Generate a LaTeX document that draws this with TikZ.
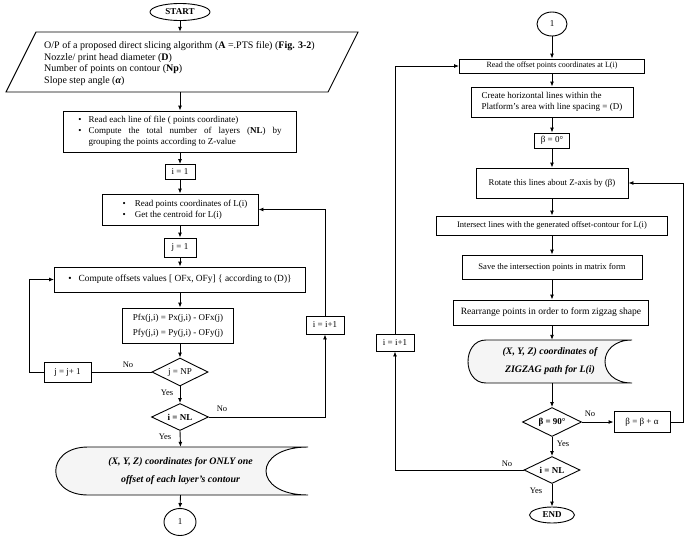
\documentclass[tikz,border=0pt]{standalone}
\usepackage{fontspec}
\setmainfont{Liberation Serif}
\usetikzlibrary{shapes.geometric,arrows.meta,calc}
\begin{document}
\begin{tikzpicture}[x=1pt,y=-1pt,
  font=\fontsize{9}{11}\selectfont,
  proc/.style={draw, line width=0.9pt, inner sep=0pt, align=center},
  dec/.style={draw, diamond, aspect=2, line width=0.9pt, inner sep=0pt},
  term/.style={draw, ellipse, line width=0.9pt, inner sep=0pt},
  ln/.style={line width=0.9pt},
  arr/.style={line width=0.9pt, -{Latex[length=5pt,width=4pt]}},
  lbl/.style={font=\fontsize{8.5}{10}\selectfont, inner sep=1pt},
  store/.style={draw, line width=0.9pt, fill=gray!8},
  bi/.style={font=\fontsize{9.9}{18}\selectfont\bfseries\itshape, align=center, inner sep=0pt}
]
\useasboundingbox (0,0) rectangle (685,536);

% ---------------- left column ----------------
\node[term, minimum width=60, minimum height=17] (start) at (180,12) {\textbf{START}};

\draw[ln] (36,32) -- (358,32) -- (328,92) -- (6,92) -- cycle;
\node[inner sep=0pt, minimum width=300, minimum height=60] (inp) at (180,62) {};
\node[anchor=west, align=left, inner sep=0pt, font=\fontsize{10}{11.6}\selectfont] (inptxt) at (44,63.5)
 {O/P of a proposed direct slicing algorithm (\textbf{A} =.PTS file) (\textbf{Fig. 3-2})\\
  Nozzle/ print head diameter (\textbf{D})\\
  Number of points on contour (\textbf{Np})\\
  Slope step angle (\textbf{\textit{α}})};

\node[proc, minimum width=233, minimum height=41] (bul) at (180,131.5)
 {\begin{tabular}{@{}l@{\hspace{7pt}}l@{}}
  \textbullet & Read each line of file ( points coordinate)\\
  \textbullet & \makebox[193pt][s]{Compute the total number of layers (\textbf{NL}) by}\\
   & grouping the points according to Z-value
  \end{tabular}};

\node[proc, minimum width=30, minimum height=15] (i1) at (180,172) {i = 1};

\node[proc, minimum width=156, minimum height=31] (rp) at (180,209.5)
 {\hspace{10pt}\begin{tabular}{@{}l@{\hspace{9pt}}l@{}}
  \textbullet & Read points coordinates of L(i)\\
  \textbullet & Get the centroid for L(i)
  \end{tabular}};

\node[proc, minimum width=32, minimum height=19] (j1) at (180,247.5) {j = 1};

\node[proc, minimum width=251, minimum height=25, font=\fontsize{9.4}{11}\selectfont] (co) at (180,279.5)
 {\textbullet\hspace{7pt}Compute offsets values [ OFx, OFy] \{ according to (D)\}};

\node[proc, minimum width=111, minimum height=35] (pf) at (178,325.5)
 {Pfx(j,i) = Px(j,i) - OFx(j)\\[4pt] Pfy(j,i) = Py(j,i) - OFy(j)};

\node[dec, minimum width=56, minimum height=28] (jnp) at (180,372) {j = NP};
\node[proc, minimum width=47, minimum height=20] (jj) at (67.5,372) {j = j+ 1};

\node[dec, minimum width=57, minimum height=27] (inl) at (180,417) {\textbf{i = NL}};
\node[proc, minimum width=38, minimum height=18] (ii) at (325,325) {i = i+1};

\draw[store] (88,447) -- (308,447) .. controls (252,447) and (252,495) .. (308,495)
  -- (88,495) .. controls (45,495) and (45,447) .. (88,447) -- cycle;
\node[bi, minimum width=253, minimum height=48] (ds1) at (180.5,471)
 {(X, Y, Z) coordinates for ONLY one\\ offset of each layer's contour};

\node[term, minimum width=32, minimum height=27] (c1) at (180,522) {1};

% left connectors
\draw[arr] (start.south) -- (inp.north);
\draw[arr] (inp.south) -- (bul.north);
\draw[arr] (bul.south) -- (i1.north);
\draw[arr] (i1.south) -- (rp.north);
\draw[arr] (rp.south) -- (j1.north);
\draw[arr] (j1.south) -- (co.north);
\draw[arr] (co.south) -- (co.south |- pf.north);
\draw[arr] (pf.south -| jnp.north) -- (jnp.north);
\draw[ln] (jnp.west) -- (jj.east);
\draw[arr] (jj.west) -- ++(-14,0) |- (co.west);
\draw[arr] (jnp.south) -- (inl.north);
\draw[arr] (inl.east) -| (ii.south);
\draw[arr] (ii.north) |- (rp.east);
\draw[arr] (inl.south) -- (ds1.north);
\draw[arr] (ds1.south) -- (c1.north);

\node[lbl] (no1) at (128,365) {No};
\node[lbl] (yes1) at (167,393) {Yes};
\node[lbl] (no2) at (222,409) {No};
\node[lbl] (yes2) at (165,437) {Yes};

% ---------------- right column ----------------
\node[term, minimum width=30, minimum height=24] (c2) at (552,24) {1};
\node[proc, minimum width=185, minimum height=14, font=\fontsize{8}{10}\selectfont] (ro) at (552,66) {Read the offset points coordinates at L(i)};
\node[proc, minimum width=162, minimum height=30] (ch) at (552,102)
 {\begin{tabular}{@{}l@{}}Create horizontal lines within the\\ Platform's area with line spacing = (D)\end{tabular}};
\node[proc, minimum width=35, minimum height=15] (b0) at (552,140.5) {β = 0°};
\node[proc, minimum width=152, minimum height=30, font=\fontsize{8.8}{11}\selectfont] (rot) at (552,183) {Rotate this lines about Z-axis by (β)};
\node[proc, minimum width=231, minimum height=19, font=\fontsize{8.5}{11}\selectfont] (ins) at (552,225.5) {Intersect lines with the generated offset-contour for L(i)};
\node[proc, minimum width=180, minimum height=24, font=\fontsize{8.6}{11}\selectfont] (sv) at (552,267) {Save the intersection points in matrix form};
\node[proc, minimum width=195, minimum height=25, font=\fontsize{9.6}{11}\selectfont] (ra) at (551,312.5) {Rearrange points in order to form zigzag shape};

\draw[store] (486,340) -- (632,340) .. controls (596,340) and (596,383) .. (632,383)
  -- (486,383) .. controls (462,383) and (462,340) .. (486,340) -- cycle;
\node[bi, minimum width=164, minimum height=43] (ds2) at (550,361.5)
 {(X, Y, Z) coordinates of\\ ZIGZAG path for L(i)};

\node[dec, minimum width=59, minimum height=29] (b90) at (552,422) {\textbf{β = 90°}};
\node[proc, minimum width=56, minimum height=21] (bb) at (642,422) {β = β + α};
\node[dec, minimum width=56, minimum height=27] (inl2) at (552,470) {\textbf{i = NL}};
\node[term, minimum width=45, minimum height=16] (end) at (552,515) {\textbf{END}};
\node[proc, minimum width=38, minimum height=17] (ii2) at (395,342.5) {i = i+1};

% right connectors
\draw[arr] (c2.south) -- (ro.north);
\draw[arr] (ro.south) -- (ch.north);
\draw[arr] (ch.south) -- (b0.north);
\draw[arr] (b0.south) -- (rot.north);
\draw[arr] (rot.south) -- (ins.north);
\draw[arr] (ins.south) -- (sv.north);
\draw[arr] (sv.south) -- (sv.south |- ra.north);
\draw[arr] (sv.south |- ra.south) -- (sv.south |- ds2.north);
\draw[arr] (sv.south |- ds2.south) -- (b90.north);
\draw[arr] (b90.east) -- (bb.west);
\draw[arr] (bb.east) -- ++(13,0) |- (rot.east);
\draw[arr] (b90.south) -- (inl2.north);
\draw[arr] (inl2.west) -| (ii2.south);
\draw[arr] (ii2.north) |- (ro.west);
\draw[arr] (inl2.south) -- (end.north);

\node[lbl] (no3) at (590,414) {No};
\node[lbl] (yes3) at (563,444) {Yes};
\node[lbl] (no4) at (507,464) {No};
\node[lbl] (yes4) at (536,491) {Yes};
\end{tikzpicture}
\end{document}
